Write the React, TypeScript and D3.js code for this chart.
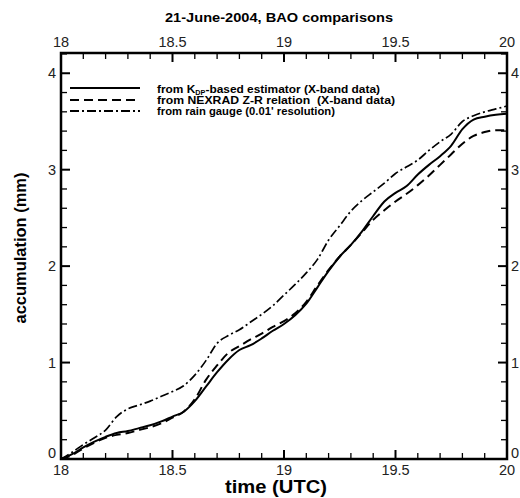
import React, { useRef, useEffect } from "react";
import * as d3 from "d3";

const times = [18, 18.05, 18.1, 18.15, 18.2, 18.25, 18.3, 18.35, 18.4, 18.45, 18.5, 18.55, 18.6, 18.65, 18.7, 18.75, 18.8, 18.85, 18.9, 18.95, 19, 19.05, 19.1, 19.15, 19.2, 19.25, 19.3, 19.35, 19.4, 19.45, 19.5, 19.55, 19.6, 19.65, 19.7, 19.75, 19.8, 19.85, 19.9, 19.95, 20];

const kdpValues = [0, 0.05, 0.12, 0.18, 0.23, 0.27, 0.29, 0.32, 0.35, 0.39, 0.44, 0.49, 0.6, 0.75, 0.9, 1.03, 1.13, 1.18, 1.25, 1.33, 1.4, 1.49, 1.61, 1.78, 1.95, 2.1, 2.22, 2.36, 2.52, 2.67, 2.76, 2.83, 2.95, 3.05, 3.14, 3.25, 3.42, 3.52, 3.55, 3.57, 3.58];

const nexradValues = [0, 0.04, 0.11, 0.17, 0.22, 0.25, 0.27, 0.3, 0.33, 0.37, 0.43, 0.49, 0.62, 0.82, 0.97, 1.1, 1.17, 1.24, 1.3, 1.37, 1.43, 1.51, 1.63, 1.8, 1.96, 2.1, 2.22, 2.35, 2.48, 2.58, 2.67, 2.75, 2.84, 2.94, 3.05, 3.16, 3.27, 3.35, 3.39, 3.41, 3.41];

const gaugeValues = [0, 0.07, 0.15, 0.22, 0.3, 0.44, 0.52, 0.56, 0.6, 0.65, 0.7, 0.76, 0.87, 1.02, 1.2, 1.28, 1.34, 1.42, 1.5, 1.59, 1.7, 1.81, 1.93, 2.07, 2.27, 2.42, 2.57, 2.68, 2.77, 2.86, 2.96, 3.03, 3.1, 3.2, 3.29, 3.37, 3.5, 3.56, 3.6, 3.63, 3.66];

const xTicks = [18, 18.5, 19, 19.5, 20];
const yTicks = [0, 1, 2, 3, 4];

const series = [
  { name: "kdp", values: kdpValues, dash: null },
  { name: "nexrad", values: nexradValues, dash: "9,5" },
  { name: "gauge", values: gaugeValues, dash: "9,3,2,3" },
];

const legendLabels = [
  "from K|DP|-based estimator (X-band data)",
  "from NEXRAD Z-R relation  (X-band data)",
  "from rain gauge (0.01' resolution)",
];

const W = 520;
const H = 498;

const App = () => {
  const ref = useRef<SVGSVGElement>(null);

  useEffect(() => {
    if (!ref.current) return;
    const svg = d3.select(ref.current);
    svg.selectAll("*").remove();

    const left = 61, right = 507, top = 53, bottom = 459;
    const font = "'Liberation Sans', Arial, sans-serif";

    const x = d3.scaleLinear().domain([18, 20]).range([left, right]);
    const y = d3.scaleLinear().domain([0, 4.21]).range([bottom, top]);

    const g = svg.append("g");

    // ticks point inward on all four sides
    d3.range(18, 20.0001, 0.1).forEach((t) => {
      const major = Math.abs(t * 2 - Math.round(t * 2)) < 1e-6;
      const len = major ? 9 : 6;
      const sw = major ? 2 : 1.3;
      g.append("line").attr("x1", x(t)).attr("x2", x(t)).attr("y1", bottom).attr("y2", bottom - len)
        .attr("stroke", "#000").attr("stroke-width", sw);
      g.append("line").attr("x1", x(t)).attr("x2", x(t)).attr("y1", top).attr("y2", top + len)
        .attr("stroke", "#000").attr("stroke-width", sw);
    });
    d3.range(0, 4.2001, 0.2).forEach((v) => {
      const major = Math.abs(v - Math.round(v)) < 1e-6;
      const len = major ? 9 : 6;
      const sw = major ? 2 : 1.3;
      g.append("line").attr("x1", left).attr("x2", left + len).attr("y1", y(v)).attr("y2", y(v))
        .attr("stroke", "#000").attr("stroke-width", sw);
      g.append("line").attr("x1", right).attr("x2", right - len).attr("y1", y(v)).attr("y2", y(v))
        .attr("stroke", "#000").attr("stroke-width", sw);
    });

    g.append("rect").attr("x", left).attr("y", top).attr("width", right - left).attr("height", bottom - top)
      .attr("fill", "none").attr("stroke", "#000").attr("stroke-width", 2.5);

    // tick labels
    const fs = 14.5;
    xTicks.forEach((t) => {
      g.append("text").attr("x", x(t)).attr("y", bottom + 16).attr("text-anchor", "middle")
        .attr("font-family", font).attr("font-size", fs).attr("fill", "#222").text(t);
      g.append("text").attr("x", x(t)).attr("y", top - 6).attr("text-anchor", "middle")
        .attr("font-family", font).attr("font-size", fs).attr("fill", "#222").text(t);
    });
    yTicks.forEach((v) => {
      const yy = v === 0 ? y(v) - 1 : y(v) + 5;
      g.append("text").attr("x", left - 5).attr("y", yy).attr("text-anchor", "end")
        .attr("font-family", font).attr("font-size", fs).attr("fill", "#222").text(v);
      g.append("text").attr("x", right + 4).attr("y", yy).attr("text-anchor", "start")
        .attr("font-family", font).attr("font-size", fs).attr("fill", "#222").text(v);
    });

    // titles
    svg.append("text").attr("x", 279).attr("y", 22).attr("text-anchor", "middle")
      .attr("font-family", font).attr("font-weight", "bold").attr("font-size", 13.5)
      .attr("textLength", 228).attr("lengthAdjust", "spacingAndGlyphs")
      .text("21-June-2004, BAO comparisons");
    svg.append("text").attr("x", 276).attr("y", 493).attr("text-anchor", "middle")
      .attr("font-family", font).attr("font-weight", "bold").attr("font-size", 18)
      .attr("textLength", 102).attr("lengthAdjust", "spacingAndGlyphs")
      .text("time (UTC)");
    svg.append("text").attr("transform", `translate(26,248) rotate(-90)`).attr("text-anchor", "middle")
      .attr("font-family", font).attr("font-weight", "bold").attr("font-size", 17)
      .attr("textLength", 151).attr("lengthAdjust", "spacingAndGlyphs")
      .text("accumulation (mm)");

    // lines
    const line = d3.line<number>()
      .x((_, i) => x(times[i]))
      .y((d) => y(d))
      .curve(d3.curveMonotoneX);

    series.forEach((s) => {
      const p = g.append("path").attr("d", line(s.values)).attr("fill", "none")
        .attr("stroke", "#000").attr("stroke-width", s.name === "gauge" ? 1.7 : 2);
      if (s.dash) p.attr("stroke-dasharray", s.dash);
    });

    // legend
    const lineY = [88, 100, 111];
    const textY = [92.5, 104, 114.5];
    const textW = [223, 238, 178];
    series.forEach((s, i) => {
      const l = g.append("line").attr("x1", 70).attr("x2", 140).attr("y1", lineY[i]).attr("y2", lineY[i])
        .attr("stroke", "#000").attr("stroke-width", 2);
      if (s.dash) l.attr("stroke-dasharray", s.dash);
      const t = g.append("text").attr("x", 157).attr("y", textY[i])
        .attr("font-family", font).attr("font-weight", "bold").attr("font-size", 11.5)
        .attr("xml:space", "preserve")
        .attr("textLength", textW[i]).attr("lengthAdjust", "spacingAndGlyphs");
      const parts = legendLabels[i].split("|");
      if (parts.length === 3) {
        t.append("tspan").text(parts[0]);
        t.append("tspan").attr("font-size", 7).attr("dy", 2).text(parts[1]);
        t.append("tspan").attr("dy", -2).text(parts[2]);
      } else {
        t.text(legendLabels[i]);
      }
    });
  }, []);

  return <svg ref={ref} width={W} height={H} style={{ position: "absolute", left: 0, top: 0 }} />;
};

export default App;
